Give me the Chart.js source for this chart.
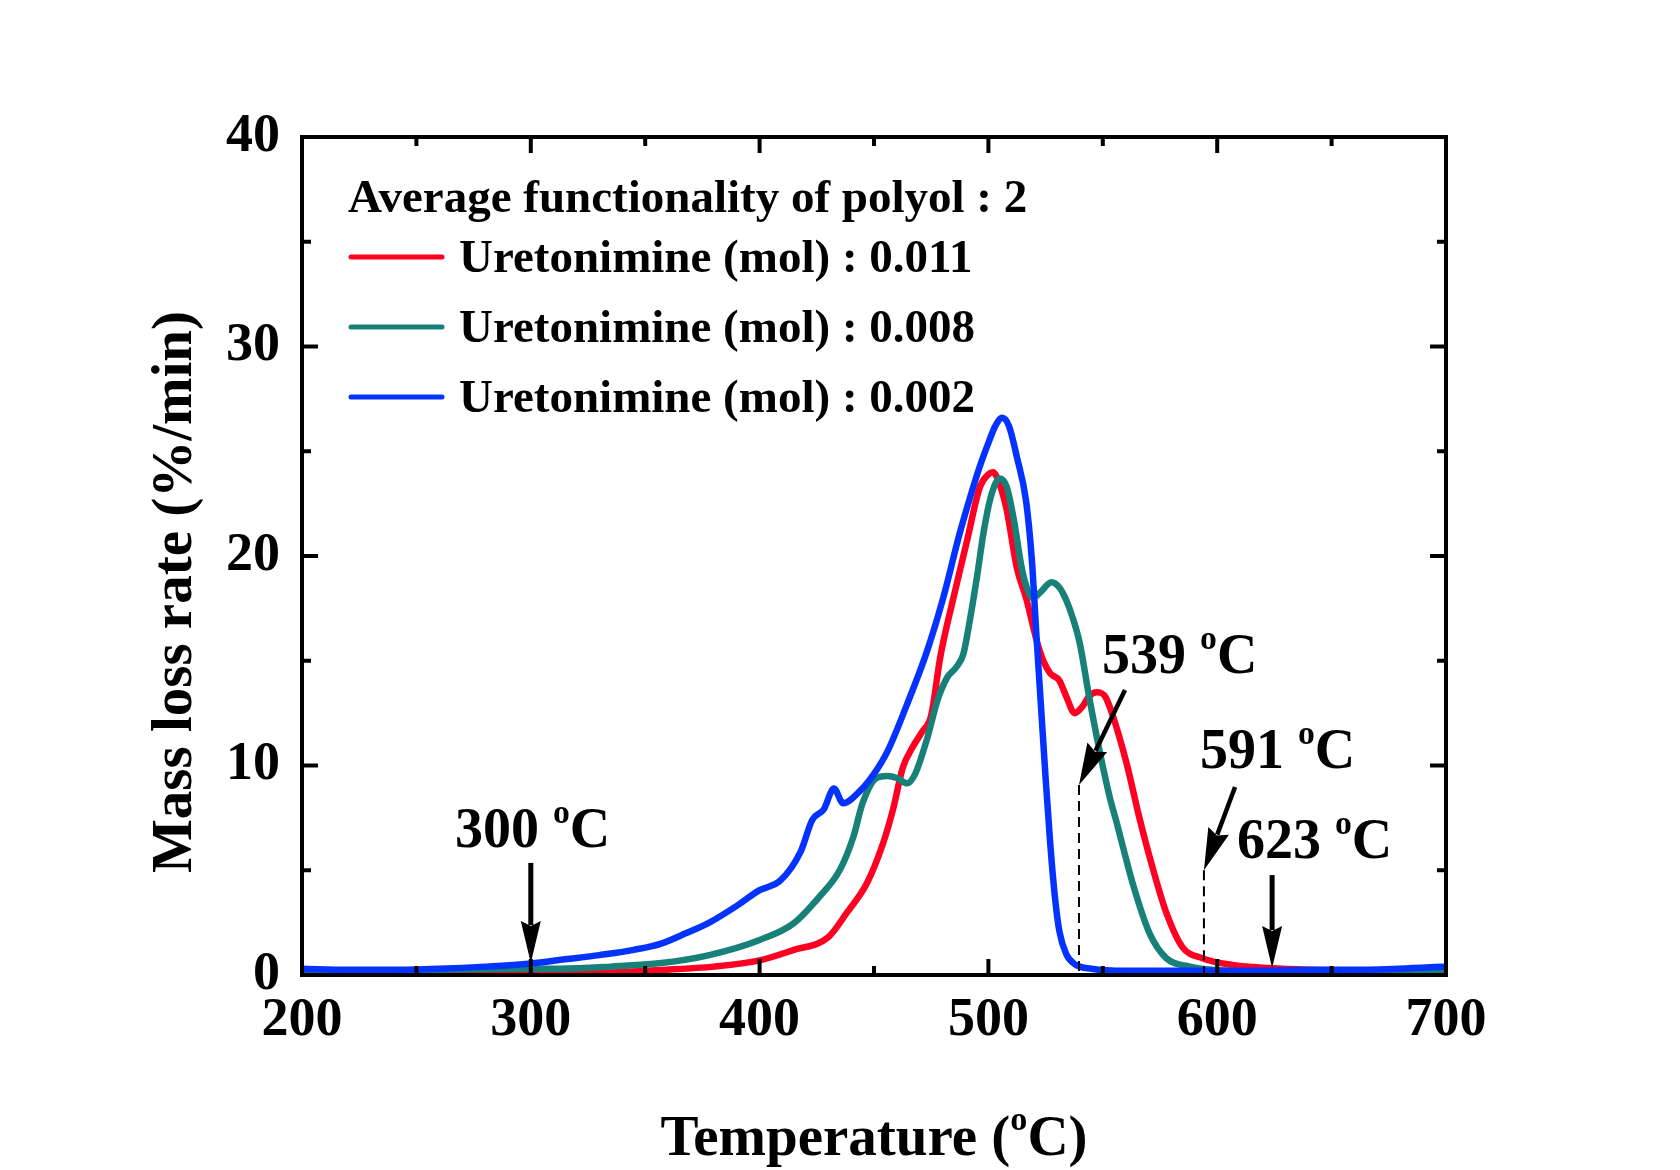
<!DOCTYPE html>
<html>
<head>
<meta charset="utf-8">
<script src="https://cdn.jsdelivr.net/npm/chart.js@4.4.1/dist/chart.umd.min.js"></script>
<style>
  html, body { margin: 0; padding: 0; background: #fff; }
  canvas { display: block; }
</style>
</head>
<body>
<canvas id="c" width="1680" height="1170"></canvas>
<script>
// ---- Data ----
const seriesLabels = ['Uretonimine (mol) : 0.011', 'Uretonimine (mol) : 0.008', 'Uretonimine (mol) : 0.002'];
const legendTitle = 'Average functionality of polyol : 2';

const redT = [200, 250, 300, 330, 357, 380, 400, 415, 430, 438, 447, 454, 458.3, 462.6, 467, 471, 475, 479, 484.5, 490.6, 496.3, 500, 502, 505, 508, 512.4, 516.7, 521, 524, 527, 531, 534, 537.7, 541, 544, 547.3, 551, 554.3, 560.4, 566, 571.7, 577.8, 584.8, 593.5, 606.6, 622.8, 640, 660, 700];
const redV = [0.0, 0.0, 0.05, 0.1, 0.24, 0.4, 0.7, 1.2, 1.8, 2.95, 4.4, 6.3, 7.9, 9.9, 10.9, 11.6, 12.4, 15.2, 17.9, 20.7, 23.3, 23.9, 24.0, 23.4, 22.2, 19.45, 17.9, 16.0, 15.0, 14.4, 14.06, 13.3, 12.5, 12.8, 13.3, 13.5, 13.3, 12.4, 10.1, 7.5, 5.15, 2.96, 1.33, 0.8, 0.48, 0.33, 0.25, 0.22, 0.2];

const tealT = [200, 230, 260, 290, 313, 335, 357, 378, 400, 415, 426, 435, 441, 445, 451, 456, 460, 464.5, 468, 473, 478, 482, 486, 489, 492, 495, 498, 501, 505, 508, 511, 515, 519.5, 523, 527.5, 531, 534, 537, 540, 544, 548.6, 553, 556, 563, 570.4, 577.8, 588, 599, 620, 650, 700];
const tealV = [0.1, 0.15, 0.25, 0.3, 0.3, 0.4, 0.57, 0.95, 1.67, 2.48, 3.72, 5.0, 6.6, 8.2, 9.4, 9.5, 9.4, 9.15, 9.6, 11.2, 13.2, 14.2, 14.7, 15.3, 17.0, 19.0, 21.2, 22.8, 23.7, 23.3, 21.8, 19.2, 18.0, 18.3, 18.75, 18.5, 17.9, 17.0, 15.8, 13.3, 10.7, 8.5, 7.3, 4.4, 2.0, 0.8, 0.4, 0.24, 0.15, 0.15, 0.15];

const blueT = [200, 220, 240, 260, 280, 300, 315, 330, 345, 357, 368, 378, 390, 400, 409, 418, 423, 428, 432.5, 436.5, 444, 450, 456, 464, 473, 480, 487.5, 492, 496, 500, 503, 506, 509, 512.5, 516.5, 519, 521, 523, 525, 527, 529, 531, 534, 538, 545, 560, 580, 600, 620, 640, 660, 680, 700];
const blueV = [0.3, 0.25, 0.25, 0.3, 0.4, 0.55, 0.75, 0.95, 1.2, 1.5, 2.0, 2.5, 3.3, 4.05, 4.5, 5.9, 7.4, 7.9, 8.9, 8.2, 8.8, 9.6, 10.7, 12.8, 15.4, 17.9, 21.1, 22.8, 24.2, 25.4, 26.2, 26.6, 26.2, 24.7, 22.6, 19.8, 16.2, 12.8, 9.4, 6.3, 3.8, 2.1, 1.0, 0.5, 0.3, 0.2, 0.2, 0.2, 0.2, 0.25, 0.25, 0.3, 0.4];

const xTicks = [200, 300, 400, 500, 600, 700];
const xMinorTicks = [250, 350, 450, 550, 650];
const yTicks = [0, 10, 20, 30, 40];
const yMinorTicks = [5, 15, 25, 35];

// annotations: label temperature, arrow start/end (T, rate), dashed guide
const annTemps = [300, 539, 591, 623];
const annLabelPos = [[266.9, 6.1], [549.7, 14.4], [592.5, 9.9], [608.6, 5.6]];
const annArrowFrom = [[300, 5.35], [559.7, 13.6], [607.8, 8.97], [624, 4.77]];
const annArrowTo = [[300, 0.57], [539.6, 9.07], [594.2, 5.0], [624, 0.33]];
const annDashed = [false, true, true, false];

const colors = ['#FF0022', '#168079', '#0433FF'];
const FONT = '"Liberation Serif", "Times New Roman", serif';

function toXY(T, V) { return T.map((t, i) => ({ x: t, y: V[i] })); }

function drawSuperText(ctx, parts, size, x, y, align) {
  ctx.textBaseline = 'alphabetic';
  const widths = parts.map(p => { ctx.font = 'bold ' + (p.sup ? size * 0.6 : size) + 'px ' + FONT; return ctx.measureText(p.t).width; });
  const total = widths.reduce((a, b) => a + b, 0);
  let cx = align === 'center' ? x - total / 2 : x;
  parts.forEach((p, i) => {
    ctx.font = 'bold ' + (p.sup ? size * 0.6 : size) + 'px ' + FONT;
    ctx.textAlign = 'left';
    ctx.fillText(p.t, cx, p.sup ? y - size * 0.43 : y);
    cx += widths[i];
  });
}

function arrow(ctx, x1, y1, x2, y2, lw, headLen, headW) {
  const ang = Math.atan2(y2 - y1, x2 - x1);
  const bx = x2 - headLen * Math.cos(ang), by = y2 - headLen * Math.sin(ang);
  ctx.lineWidth = lw;
  ctx.lineCap = 'butt';
  ctx.beginPath(); ctx.moveTo(x1, y1); ctx.lineTo(bx + Math.cos(ang) * 4, by + Math.sin(ang) * 4); ctx.stroke();
  const px = -Math.sin(ang), py = Math.cos(ang);
  ctx.beginPath();
  ctx.moveTo(x2, y2);
  ctx.lineTo(bx + px * headW / 2, by + py * headW / 2);
  ctx.lineTo(bx + Math.cos(ang) * 5, by + Math.sin(ang) * 5);
  ctx.lineTo(bx - px * headW / 2, by - py * headW / 2);
  ctx.closePath();
  ctx.fill();
}

const framePlugin = {
  id: 'frame',
  afterDatasetsDraw(chart) {
    const ctx = chart.ctx;
    const a = chart.chartArea;
    const xs = chart.scales.x, ys = chart.scales.y;
    ctx.save();
    ctx.strokeStyle = '#000'; ctx.fillStyle = '#000';
    // frame
    ctx.lineWidth = 4;
    ctx.strokeRect(a.left, a.top, a.right - a.left, a.bottom - a.top);
    // ticks (inward)
    ctx.lineWidth = 4; ctx.lineCap = 'butt';
    const major = 16, minor = 9;
    const tickX = (v, len) => {
      const p = xs.getPixelForValue(v);
      ctx.beginPath(); ctx.moveTo(p, a.bottom); ctx.lineTo(p, a.bottom - len); ctx.stroke();
      ctx.beginPath(); ctx.moveTo(p, a.top); ctx.lineTo(p, a.top + len); ctx.stroke();
    };
    const tickY = (v, len) => {
      const p = ys.getPixelForValue(v);
      ctx.beginPath(); ctx.moveTo(a.left, p); ctx.lineTo(a.left + len, p); ctx.stroke();
      ctx.beginPath(); ctx.moveTo(a.right, p); ctx.lineTo(a.right - len, p); ctx.stroke();
    };
    xTicks.forEach(v => tickX(v, major));
    xMinorTicks.forEach(v => tickX(v, minor));
    yTicks.forEach(v => tickY(v, major));
    yMinorTicks.forEach(v => tickY(v, minor));

    // annotations
    annTemps.forEach((t, i) => {
      const f = annArrowFrom[i], to = annArrowTo[i];
      const x1 = xs.getPixelForValue(f[0]), y1 = ys.getPixelForValue(f[1]);
      const x2 = xs.getPixelForValue(to[0]), y2 = ys.getPixelForValue(to[1]);
      const vertical = f[0] === to[0];
      arrow(ctx, x1, y1, x2, y2, vertical ? 5 : 4.5, 42, vertical ? 20 : 22);
      if (annDashed[i]) {
        ctx.save();
        ctx.lineWidth = 2; ctx.setLineDash([10, 6]);
        ctx.beginPath(); ctx.moveTo(x2, y2); ctx.lineTo(x2, a.bottom); ctx.stroke();
        ctx.restore();
      }
      const lp = annLabelPos[i];
      drawSuperText(ctx, [{ t: String(t) + ' ' }, { t: 'o', sup: true }, { t: 'C' }], 56,
        xs.getPixelForValue(lp[0]), ys.getPixelForValue(lp[1]), 'left');
    });

    // legend block
    const lx = a.left + 46;
    ctx.font = 'bold 47px ' + FONT;
    ctx.textAlign = 'left'; ctx.textBaseline = 'alphabetic';
    ctx.fillText(legendTitle, lx, a.top + 75);
    seriesLabels.forEach((lab, i) => {
      const ly = a.top + 120 + i * 70;
      ctx.strokeStyle = colors[i]; ctx.lineWidth = 5; ctx.lineCap = 'round';
      ctx.beginPath(); ctx.moveTo(lx + 3, ly); ctx.lineTo(lx + 94, ly); ctx.stroke();
      ctx.fillText(lab, lx + 111, ly + 15);
    });

    // axis titles
    ctx.fillStyle = '#000';
    drawSuperText(ctx, [{ t: 'Temperature (' }, { t: 'o', sup: true }, { t: 'C)' }], 57,
      (a.left + a.right) / 2, 1155, 'center');
    ctx.save();
    ctx.translate(191, 592); ctx.rotate(-Math.PI / 2);
    ctx.font = 'bold 57px ' + FONT; ctx.textAlign = 'center'; ctx.textBaseline = 'alphabetic';
    ctx.fillText('Mass loss rate (%/min)', 0, 0);
    ctx.restore();
    ctx.restore();
  }
};

const tickFont = { family: FONT, size: 54, weight: 'bold' };

new Chart(document.getElementById('c'), {
  type: 'line',
  data: {
    datasets: [
      { label: seriesLabels[0], data: toXY(redT, redV), borderColor: colors[0], order: 3 },
      { label: seriesLabels[1], data: toXY(tealT, tealV), borderColor: colors[1], order: 2 },
      { label: seriesLabels[2], data: toXY(blueT, blueV), borderColor: colors[2], order: 1 }
    ].map(d => Object.assign(d, { borderWidth: 6.5, pointRadius: 0, fill: false, cubicInterpolationMode: 'monotone' }))
  },
  options: {
    responsive: false,
    animation: false,
    devicePixelRatio: 1,
    layout: { padding: { left: 0, right: 234, top: 137, bottom: 0 } },
    scales: {
      x: {
        type: 'linear', position: 'bottom', min: 200, max: 700,
        afterBuildTicks(s) { s.ticks = xTicks.map(v => ({ value: v })); },
        ticks: { font: tickFont, color: '#000', padding: 14, maxRotation: 0, autoSkip: false },
        grid: { display: false, drawTicks: false }, border: { display: false },
        afterFit(s) { s.height = 195; }
      },
      y: {
        type: 'linear', position: 'left', min: 0, max: 40,
        afterBuildTicks(s) { s.ticks = yTicks.map(v => ({ value: v })); },
        ticks: { font: tickFont, color: '#000', padding: 22 },
        grid: { display: false, drawTicks: false }, border: { display: false },
        afterFit(s) { s.width = 302; }
      }
    },
    plugins: { legend: { display: false }, tooltip: { enabled: false } }
  },
  plugins: [framePlugin]
});
</script>
</body>
</html>
